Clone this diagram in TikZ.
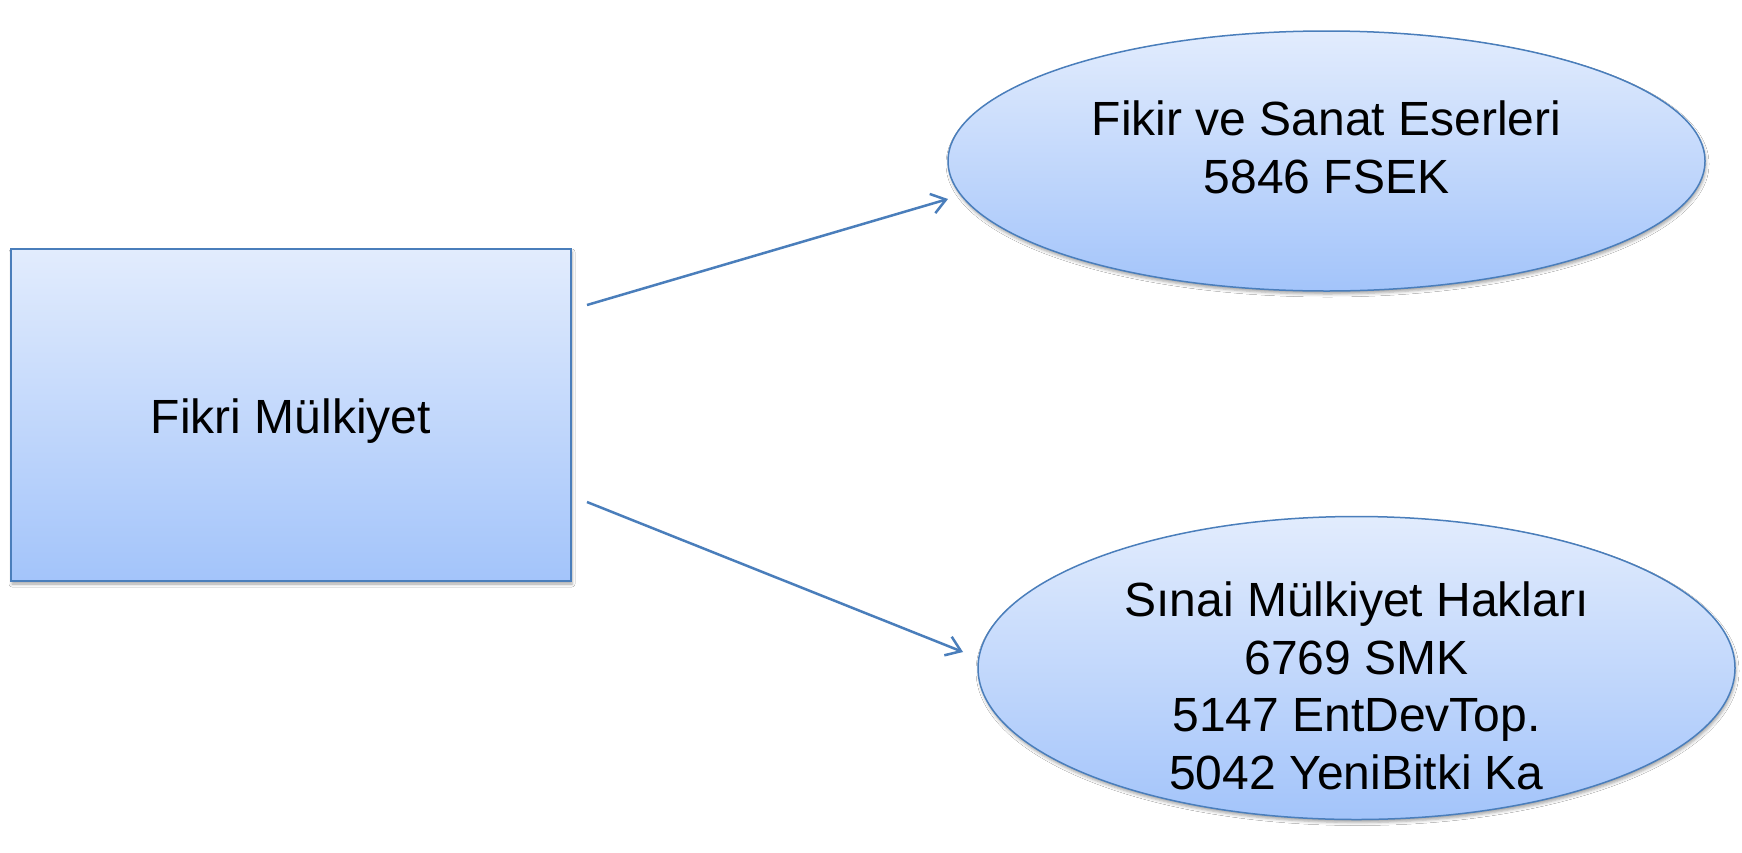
\documentclass[tikz,border=0pt]{standalone}
\usepackage{fontspec}
\setmainfont{Liberation Sans}
\usetikzlibrary{arrows.meta,shapes.geometric,shadows.blur}
\definecolor{edgeblue}{RGB}{74,126,187}
\definecolor{filltop}{RGB}{226,236,253}
\definecolor{fillbot}{RGB}{163,196,250}
\tikzset{
  shapebase/.style={draw=edgeblue, top color=filltop, bottom color=fillbot,
    inner sep=0pt, outer sep=0pt, align=center, text=black,
    font=\fontsize{48}{57.5}\selectfont,
    blur shadow={shadow xshift=1pt, shadow yshift=-3pt, shadow blur radius=3pt, shadow opacity=35}},
  rectbox/.style={shapebase, rectangle, line width=2pt},
  ellbox/.style={shapebase, ellipse, line width=1.5pt},
  conn/.style={draw=edgeblue, line width=2.5pt, -{Straight Barb[length=14pt,width=20pt]}}
}
\begin{document}
\begin{tikzpicture}[x=1pt,y=-1pt]
\useasboundingbox (0,0) rectangle (1742,852);
\fill[white] (0,0) rectangle (1742,852);
\node[rectbox, minimum width=560pt, minimum height=332pt, text height=36pt, text depth=0pt] (fm) at (291,415) {Fikri Mülkiyet};
\node[ellbox, minimum width=757pt, minimum height=260pt, text height=64.6pt, text depth=0pt] (fse) at (1326.5,161) {Fikir ve Sanat Eserleri\\5846 FSEK};
\node[ellbox, minimum width=757pt, minimum height=303pt, inner ysep=-40pt, text height=242pt, text depth=0pt] (smh) at (1356.5,668) {Sınai Mülkiyet Hakları\\6769 SMK\\5147 EntDevTop.\\5042 YeniBitki Ka};
\coordinate (a1s) at (587,305);
\coordinate (a1e) at (948,199);
\coordinate (a2s) at (587,502);
\coordinate (a2e) at (963,652);
\draw[conn] (a1s) -- (a1e);
\draw[conn] (a2s) -- (a2e);
\end{tikzpicture}
\end{document}
